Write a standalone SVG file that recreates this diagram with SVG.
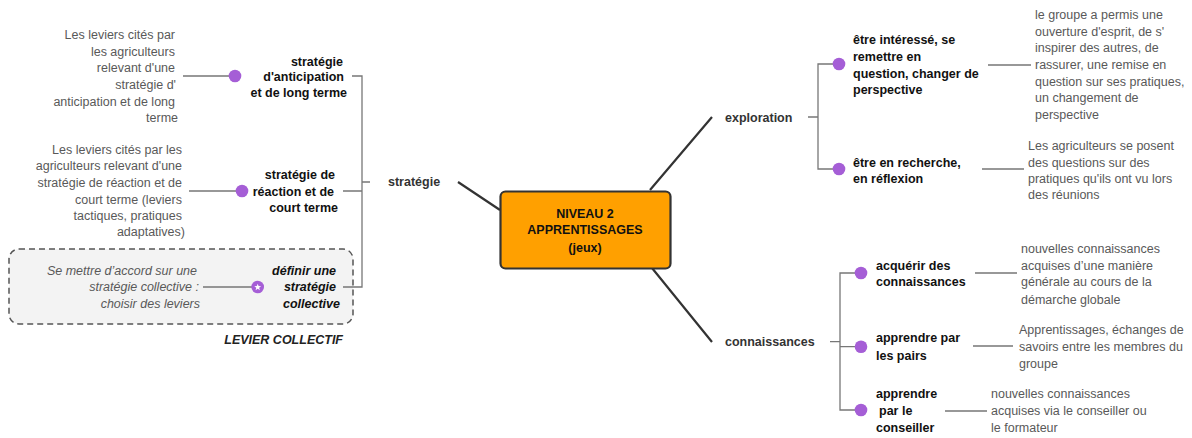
<svg xmlns="http://www.w3.org/2000/svg" width="1192" height="438" viewBox="0 0 1192 438">
<style>
text{font-family:"Liberation Sans",Arial,sans-serif;font-size:12.5px}
.desc{fill:#595959}
.node{fill:#111;font-weight:bold}
.topic{fill:#333;font-weight:bold}
.it{font-style:italic}
.ln{stroke:#777;stroke-width:1.3;fill:none}
.main{stroke:#333;stroke-width:2.2;fill:none}
.dot{fill:#a55ed6}
</style>
<rect width="1192" height="438" fill="#fff"/>
<g id="levier-collectif">
<rect x="9" y="249" width="344" height="75" rx="10" fill="#f3f3f3" stroke="#555" stroke-width="1.5" stroke-dasharray="6 4"/>
<text x="343" y="343.5" text-anchor="end" class="it" font-weight="bold" font-size="11.6px" fill="#222">LEVIER COLLECTIF</text>
</g>
<g id="connectors">
<path class="main" d="M458,182 L500,210 M650,190 L712,117 M652,268 L712,342"/>
<path class="ln" d="M370,182 H362 M352,76 H362 V287 H343 M343,191 H362"/>
<path class="ln" d="M183,76 H235 M189,191 H242 M203,287 H257"/>
<path class="ln" d="M808,117 H818 M839,64 H818 V169 H839"/>
<path class="ln" d="M830,341.7 H840 M861,273 H840 V410 H861 M840,346.7 H861"/>
<path class="ln" d="M988,65 H1031 M982,169 H1024 M975,273 H1017 M973,346 H1013 M945,411 H987"/>
</g>
<g id="center">
<rect x="500.5" y="191.5" width="170" height="77" rx="5" fill="#ffa000" stroke="#333" stroke-width="2.2"/>
<text x="585" text-anchor="middle" class="node"><tspan x="585" y="217.5">NIVEAU 2</tspan><tspan x="585" y="233.5">APPRENTISSAGES</tspan><tspan x="585" y="251.5">(jeux)</tspan></text>
</g>
<g id="strategie"><text x="388" y="186.2" class="topic">stratégie</text></g>
<g id="strategie-anticipation">
<text text-anchor="end" class="node"><tspan x="343" y="65.5">stratégie</tspan><tspan x="344" y="80.5">d'anticipation</tspan><tspan x="347" y="97.2">et de long terme</tspan></text>
<circle class="dot" cx="235" cy="76" r="6.3"/>
<text text-anchor="end" class="desc"><tspan x="175" y="38.8">Les leviers cités par</tspan><tspan x="175" y="55.5">les agriculteurs</tspan><tspan x="175" y="72.2">relevant d'une</tspan><tspan x="176" y="88.8">stratégie d'</tspan><tspan x="175" y="105.5">anticipation et de long</tspan><tspan x="178" y="122.2">terme</tspan></text>
</g>
<g id="strategie-reaction">
<text text-anchor="end" class="node"><tspan x="335" y="178.8">stratégie de</tspan><tspan x="334" y="195.5">réaction et de</tspan><tspan x="338" y="211.5">court terme</tspan></text>
<circle class="dot" cx="242" cy="191" r="6.3"/>
<text text-anchor="end" class="desc"><tspan x="182" y="153.5">Les leviers cités par les</tspan><tspan x="182" y="170.2">agriculteurs relevant d'une</tspan><tspan x="182" y="186.8">stratégie de réaction et de</tspan><tspan x="182" y="203.5">court terme (leviers</tspan><tspan x="182" y="220.2">tactiques, pratiques</tspan><tspan x="185" y="236.2">adaptatives)</tspan></text>
</g>
<g id="strategie-collective">
<text text-anchor="end" class="node it"><tspan x="336" y="274.5">définir une</tspan><tspan x="336" y="291.2">stratégie</tspan><tspan x="340" y="307.8">collective</tspan></text>
<circle class="dot" cx="257.7" cy="287" r="6.3"/>
<polygon fill="#fff" transform="translate(257.7,287.3)" points="0,-3.6 0.88,-1.21 3.42,-1.11 1.43,0.46 2.12,2.91 0,1.5 -2.12,2.91 -1.43,0.46 -3.42,-1.11 -0.88,-1.21"/>
<text text-anchor="end" class="desc it"><tspan x="197" y="274.5">Se mettre d’accord sur une</tspan><tspan x="199" y="291.2">stratégie collective :</tspan><tspan x="200" y="307.8">choisir des leviers</tspan></text>
</g>
<g id="exploration"><text x="725" y="121.5" class="topic">exploration</text></g>
<g id="etre-interesse">
<circle class="dot" cx="839" cy="64" r="6.3"/>
<text class="node"><tspan x="853" y="43.5">être intéressé, se</tspan><tspan x="853" y="60.5">remettre en</tspan><tspan x="853" y="77.5">question, changer de</tspan><tspan x="853" y="93.5">perspective</tspan></text>
<text class="desc"><tspan x="1035" y="18.8">le groupe a permis une</tspan><tspan x="1035" y="35.5">ouverture d'esprit, de s'</tspan><tspan x="1035" y="52.2">inspirer des autres, de</tspan><tspan x="1035" y="68.8">rassurer, une remise en</tspan><tspan x="1035" y="85.5">question sur ses pratiques,</tspan><tspan x="1035" y="102.2">un changement de</tspan><tspan x="1035" y="118.8">perspective</tspan></text>
</g>
<g id="etre-en-recherche">
<circle class="dot" cx="839" cy="169" r="6.3"/>
<text class="node"><tspan x="853" y="166.5">être en recherche,</tspan><tspan x="853" y="183.2">en réflexion</tspan></text>
<text class="desc"><tspan x="1028" y="149.5">Les agriculteurs se posent</tspan><tspan x="1028" y="166.5">des questions sur des</tspan><tspan x="1028" y="182.5">pratiques qu'ils ont vu lors</tspan><tspan x="1028" y="198.5">des réunions</tspan></text>
</g>
<g id="connaissances"><text x="725" y="346.2" class="topic">connaissances</text></g>
<g id="acquerir">
<circle class="dot" cx="861" cy="273" r="6.3"/>
<text class="node"><tspan x="876" y="269.5">acquérir des</tspan><tspan x="876" y="286.2">connaissances</tspan></text>
<text class="desc"><tspan x="1021" y="252.5">nouvelles connaissances</tspan><tspan x="1021" y="269.5">acquises d’une manière</tspan><tspan x="1021" y="286.2">générale au cours de la</tspan><tspan x="1021" y="303.5">démarche globale</tspan></text>
</g>
<g id="pairs">
<circle class="dot" cx="861" cy="346.7" r="6.3"/>
<text class="node"><tspan x="876" y="341.5">apprendre par</tspan><tspan x="876" y="359.5">les pairs</tspan></text>
<text class="desc"><tspan x="1019" y="333.5">Apprentissages, échanges de</tspan><tspan x="1019" y="350.5">savoirs entre les membres du</tspan><tspan x="1019" y="367.5">groupe</tspan></text>
</g>
<g id="conseiller">
<circle class="dot" cx="861" cy="410" r="6.3"/>
<text class="node"><tspan x="876" y="397.5">apprendre</tspan><tspan x="879" y="414.5">par le</tspan><tspan x="876" y="431.5">conseiller</tspan></text>
<text class="desc"><tspan x="991" y="397.5">nouvelles connaissances</tspan><tspan x="991" y="414.5">acquises via le conseiller ou</tspan><tspan x="991" y="431.5">le formateur</tspan></text>
</g>
</svg>
